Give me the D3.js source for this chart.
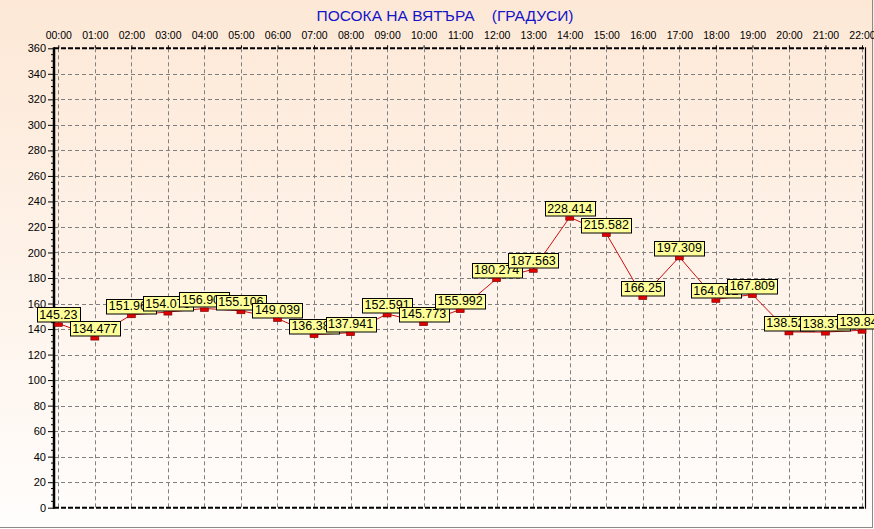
<!DOCTYPE html>
<html><head><meta charset="utf-8">
<script src="https://cdn.jsdelivr.net/npm/d3@7"></script>
<style>html,body{margin:0;padding:0;overflow:hidden;background:#fff}svg{display:block}</style>
</head><body>
<script>
const hours = ["00:00","01:00","02:00","03:00","04:00","05:00","06:00","07:00","08:00","09:00","10:00","11:00","12:00","13:00","14:00","15:00","16:00","17:00","18:00","19:00","20:00","21:00","22:00"];
const values = [145.23,134.477,151.968,154.073,156.902,155.106,149.039,136.383,137.941,152.591,145.773,155.992,180.274,187.563,228.414,215.582,166.25,197.309,164.052,167.809,138.523,138.374,139.844];
const yTicks = [0,20,40,60,80,100,120,140,160,180,200,220,240,260,280,300,320,340,360];
const title = "ПОСОКА НА ВЯТЪРА    (ГРАДУСИ)";

const W = 874, H = 529;
const svg = d3.select("body").append("svg").attr("width", W).attr("height", H);
const defs = svg.append("defs");
const grad = defs.append("linearGradient").attr("id","bg").attr("x1",0).attr("y1",0).attr("x2",0).attr("y2",1);
grad.append("stop").attr("offset","0%").attr("stop-color","#fde8d6");
grad.append("stop").attr("offset","100%").attr("stop-color","#fffdfc");
svg.append("rect").attr("width",W).attr("height",H).attr("fill","url(#bg)");
// outer window edge
svg.append("line").attr("x1",0).attr("x2",873).attr("y1",527.5).attr("y2",527.5).attr("stroke","#8a8a8a").attr("stroke-width",1);
svg.append("line").attr("x1",872.5).attr("x2",872.5).attr("y1",0).attr("y2",528).attr("stroke","#8a8a8a").attr("stroke-width",1);

const x = d3.scalePoint().domain(hours).range([58.3, 862]);
const y = d3.scaleLinear().domain([0,360]).range([507.7, 48.3]);
const plotL = 54, plotR = 865.5;
const font = "Arial, 'Liberation Sans', sans-serif";

// title
svg.append("text").attr("x", 445).attr("y", 21).attr("text-anchor","middle")
  .attr("font-family",font).attr("font-size",15.5)
  .attr("fill","#1414c8").style("white-space","pre").text(title);

// grid
const g = svg.append("g");
g.selectAll(".hg").data(yTicks.filter(d=>d>0 && d<360)).join("line")
  .attr("x1",plotL).attr("x2",plotR).attr("y1",d=>Math.round(y(d))+0.5).attr("y2",d=>Math.round(y(d))+0.5)
  .attr("stroke","#808080").attr("stroke-dasharray","4,3");
g.selectAll(".vg").data(hours).join("line")
  .attr("x1",d=>Math.round(x(d))+0.5).attr("x2",d=>Math.round(x(d))+0.5).attr("y1",y(360)).attr("y2",y(0))
  .attr("stroke","#808080").attr("stroke-dasharray","4,3");

// frame
svg.append("line").attr("x1",plotL).attr("x2",plotR).attr("y1",y(360)).attr("y2",y(360)).attr("stroke","#000").attr("stroke-width",2).attr("stroke-dasharray","5,2");
svg.append("line").attr("x1",plotL).attr("x2",plotR).attr("y1",y(0)).attr("y2",y(0)).attr("stroke","#000").attr("stroke-width",2).attr("stroke-dasharray","5,2");
svg.append("line").attr("x1",plotR).attr("x2",plotR).attr("y1",y(360)-1).attr("y2",y(0)+1).attr("stroke","#000").attr("stroke-width",1.2);

// left axis
const yAxis = d3.axisLeft(y).tickValues(yTicks).tickSize(6).tickPadding(2).tickFormat(d3.format("d"));
const ya = svg.append("g").attr("transform",`translate(${plotL},0)`).call(yAxis);
ya.select(".domain").attr("stroke","#000").attr("stroke-width",2.5).attr("d",`M0,${y(360)-1}V${y(0)+1}`);
ya.selectAll(".tick line").attr("stroke","#000");
ya.selectAll("text").attr("font-family",font).attr("font-size",11).attr("fill","#000");
// minor ticks
svg.append("g").selectAll("line").data(d3.range(0,361,5).filter(d=>d%20!==0)).join("line")
  .attr("x1",plotL-3).attr("x2",plotL).attr("y1",d=>y(d)).attr("y2",d=>y(d)).attr("stroke","#000");

// top axis
const xAxis = d3.axisTop(x).tickSize(3).tickPadding(6);
const xa = svg.append("g").attr("transform",`translate(0,${y(360)})`).call(xAxis);
xa.select(".domain").remove();
xa.selectAll(".tick line").attr("stroke","#000");
xa.selectAll("text").attr("font-family",font).attr("font-size",10.5).attr("fill","#000");

// data line
const pts = hours.map((h,i)=>({h, v: values[i]}));
svg.append("path").datum(pts)
  .attr("d", d3.line().x(d=>x(d.h)).y(d=>y(d.v)+1))
  .attr("fill","none").attr("stroke","#cc1010").attr("stroke-width",1);

// labels & markers
pts.forEach(d=>{
  const px = x(d.h), py = y(d.v);
  const grp = svg.append("g");
  const rect = grp.append("rect");
  const t = grp.append("text").attr("x",px).attr("y",py-3.5).attr("text-anchor","middle")
    .attr("font-family",font).attr("font-size",12.5).attr("fill","#000").text(String(d.v));
  const tw = t.node().getComputedTextLength();
  const bw = Math.round(tw + 5);
  rect.attr("x",Math.round(px - bw/2)+0.5).attr("y",Math.round(py-15)+0.5).attr("width",bw).attr("height",14.5)
    .attr("fill","#ffff99").attr("stroke","#000").attr("stroke-width",1);
  grp.append("rect").attr("x",px-4).attr("y",py+0.5).attr("width",8).attr("height",3.5)
    .attr("fill","#e00000").attr("stroke","#700000").attr("stroke-width",0.6);
});
</script>
</body></html>
